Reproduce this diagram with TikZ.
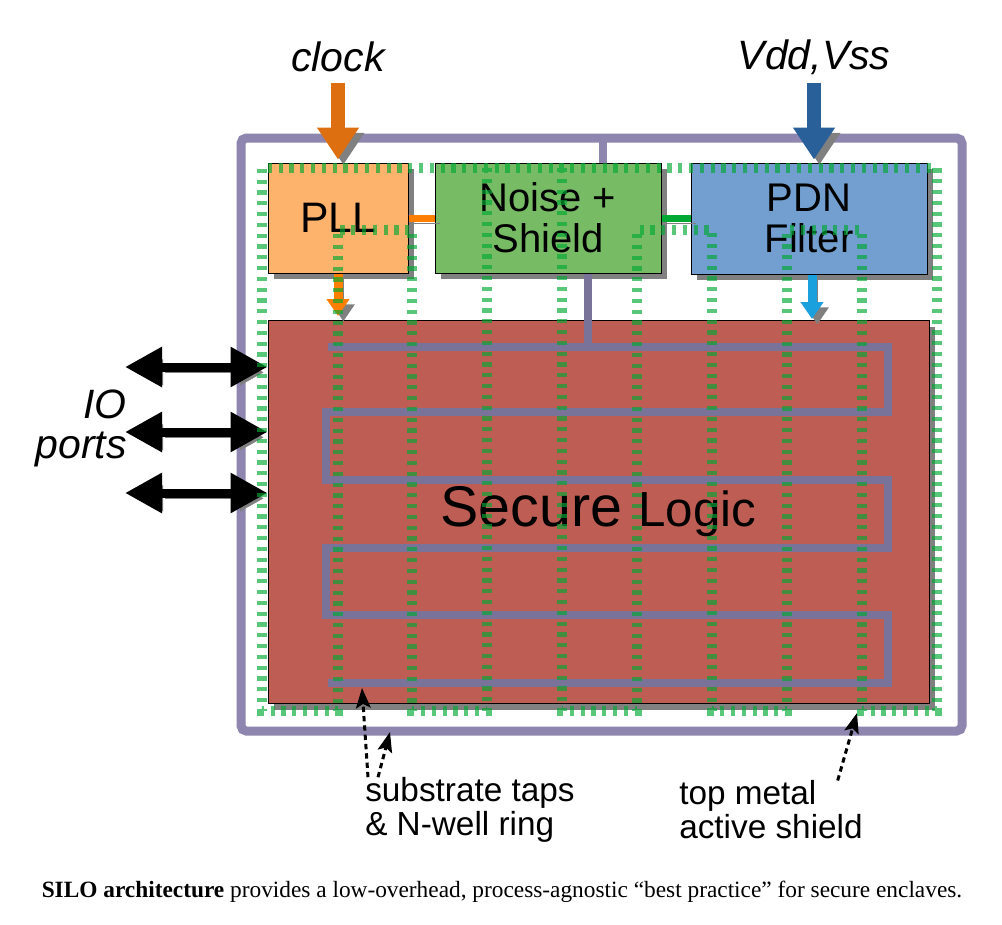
\documentclass[tikz,border=0pt]{standalone}
\usepackage{fontspec}
\setmainfont{Liberation Sans}
\newfontfamily\capfont{Liberation Serif}
\usetikzlibrary{arrows.meta,shadows}
\definecolor{pllOrange}{HTML}{FDB36B}
\definecolor{noiseGreen}{HTML}{77BC65}
\definecolor{pdnBlue}{HTML}{729FCF}
\definecolor{logicRed}{HTML}{BE5D53}
\definecolor{clkOrange}{HTML}{DD6F10}
\definecolor{pwrBlue}{HTML}{2A6099}
\definecolor{sigOrange}{HTML}{FF8000}
\definecolor{sigGreen}{HTML}{00A933}
\definecolor{sigBlue}{HTML}{1AA0DC}
\definecolor{ringPurple}{HTML}{8E86AE}
\definecolor{tapPurple}{HTML}{7A7399}
\definecolor{shieldGreen}{HTML}{00A933}

\begin{document}
\begin{tikzpicture}[x=0.75pt, y=-0.75pt,
  blk/.style={draw=black, line width=0.75pt, inner sep=0pt, align=center,
              font=\fontsize{30}{31}\selectfont,
              drop shadow={shadow xshift=4.5pt, shadow yshift=-4.5pt, fill=gray, opacity=1}},
  lbl/.style={inner sep=0pt, font=\itshape\fontsize{30.75}{30}\selectfont},
  note/.style={inner sep=0pt, align=left, font=\fontsize{25}{25.5}\selectfont},
  ashadow/.style={preaction={draw=gray, transform canvas={shift={(4pt,-4pt)}}}},
  bigarr/.style={line width=10.5pt, -{Triangle[length=24pt,width=30pt]}, ashadow},
  smallarr/.style={line width=6.75pt, -{Triangle[length=12.75pt,width=16.5pt]}, ashadow},
  ioarr/.style={line width=6.75pt,
                {Triangle[length=27.75pt,width=28.5pt]}-{Triangle[length=27.75pt,width=28.5pt]}, ashadow},
  link/.style={line width=5.25pt, ashadow},
  tap/.style={tapPurple, line width=5.5pt},
  ptr/.style={line width=2.25pt, dash pattern=on 4pt off 3pt,
              -{Stealth[length=15pt,width=11pt,inset=3pt]}},
  mesh/.style={shieldGreen, opacity=0.65, line width=8pt, dash pattern=on 3.1pt off 5pt}
]
\useasboundingbox (0,0) rectangle (1002,924);

% chip outline
\draw[ringPurple, line width=6.75pt, rounded corners=4pt] (241,138) rectangle (962,731);
\coordinate (ringtap) at (603,138);

% blocks
\node[blk, fill=pllOrange, minimum width=105pt, minimum height=82.5pt,
      font=\fontsize{32}{32}\selectfont] (pll) at (338,218) {PLL};
\node[blk, fill=noiseGreen, minimum width=169.5pt, minimum height=82.5pt] (noise) at (548,218) {Noise +\\Shield};
\node[blk, fill=pdnBlue, minimum width=177pt, minimum height=83.25pt] (pdn) at (809,218.5) {PDN\\Filter};
\node[blk, fill=logicRed, minimum width=495.75pt, minimum height=287.25pt] (logic) at (598.5,512)
  {{\fontsize{43}{43}\selectfont Secure }{\fontsize{37}{37}\selectfont Logic}};

\draw[ringPurple, line width=6pt] (ringtap) -- (ringtap |- noise.north);
\draw[link, sigOrange] (pll.east) -- (pll.east -| noise.west);
\draw[link, sigGreen] (noise.east) -- (noise.east -| pdn.west);

% substrate tap meander
\coordinate (tapin) at (588,347);
\draw[tap] (328,347) -- (888,347) -- (888,412) -- (326,412) -- (326,480) -- (888,480)
  -- (888,548) -- (326,548) -- (326,615) -- (888,615) -- (888,683) -- (328,683);
\draw[tapPurple, line width=6pt] (noise.south -| tapin) -- (tapin);

% supplies and clock
\node[lbl] (clock) at (338,57) {clock};
\node[lbl] (vdd) at (814,57) {Vdd,Vss};
\draw[bigarr, clkOrange, shorten <=8pt, shorten >=2.25pt] (clock.south) -- (pll.north);
\draw[bigarr, pwrBlue, shorten <=6pt, shorten >=2.25pt] (vdd.south) -- (vdd.south |- pdn.north);
\draw[smallarr, sigOrange, shorten >=3pt] (pll.south) -- (pll.south |- logic.north);
\draw[smallarr, sigBlue, shorten >=0.75pt] ([xshift=2.25pt]pdn.south) -- ([xshift=2.25pt]pdn.south |- logic.north);

% IO
\node[lbl, align=right, anchor=east] (io) at (127,428) {IO\\ports};
\coordinate (p1) at (125,367);
\coordinate (p2) at (125,432);
\coordinate (p3) at (125,493);
\draw[ioarr] (p1) -- (p1 -| logic.west);
\draw[ioarr] (p2) -- (p2 -| logic.west);
\draw[ioarr] (p3) -- (p3 -| logic.west);

% notes
\node[note, anchor=west] (subs) at (365,810) {substrate taps\\\& N-well ring};
\node[note, anchor=west] (shieldnote) at (679,810) {top metal\\active shield};
\coordinate (tapend) at (362,688);
\coordinate (ringend) at (390,732);
\coordinate (meshend) at (857,713);
\draw[ptr] ([xshift=2.25pt]subs.north west) -- (tapend);
\draw[ptr] ([xshift=9.75pt]subs.north west) -- (ringend);
\draw[ptr] ([xshift=119pt]shieldnote.north west) -- (meshend);

% active shield mesh
\draw[mesh] (487,168) -- (487,711) -- (412,711) -- (412,230) -- (338,230) -- (338,711)
  -- (262,711) -- (262,168) -- (937,168) -- (937,711) -- (862,711) -- (862,230)
  -- (787,230) -- (787,711) -- (712,711) -- (712,230) -- (637,230) -- (637,711)
  -- (562,711) -- (562,168);

\node[inner sep=0pt, font=\capfont\fontsize{17.5}{20}\selectfont] (caption) at (502,892)
  {\textbf{SILO architecture} provides a low-overhead, process-agnostic “best practice” for secure enclaves.};
\end{tikzpicture}
\end{document}
